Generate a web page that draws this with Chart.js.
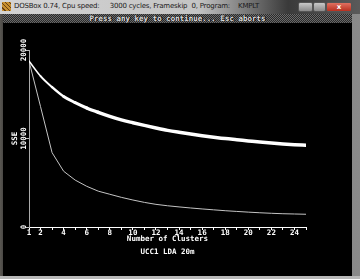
<!DOCTYPE html>
<html>
<head>
<meta charset="utf-8">
<script src="https://cdn.jsdelivr.net/npm/chart.js@4/dist/chart.umd.min.js"></script>
<style>
  html, body { margin: 0; padding: 0; }
  body { width: 360px; height: 279px; overflow: hidden; background: #7a6a58; position: relative; }
  #frame { position: absolute; left: 0; top: 0; width: 360px; height: 279px;
           background: linear-gradient(90deg, #5a5752 0px, #4a4845 3px, #6d6d6d 50%, #8a8a8a 100%); }
  #titlebar { position: absolute; left: 0; top: 0; width: 360px; height: 14px;
              background: linear-gradient(90deg, #d4d4d4 0%, #c4c4c4 55%, #3a3a3a 80%, #5a5a5a 100%); }
  #titletext { position: absolute; left: 14px; top: 2px; font: 7px "DejaVu Sans", sans-serif;
               color: #1a1a1a; white-space: pre; letter-spacing: -0.2px; }
  #icon { position: absolute; left: 2px; top: 2px; width: 9px; height: 9px;
          background: repeating-linear-gradient(45deg, #c89030 0 2px, #6a4010 2px 3px); }
  .btn { position: absolute; top: 2px; height: 10px; border: 1px solid #555; border-radius: 2px;
         box-sizing: border-box; }
  #bmin { left: 298px; width: 15px; background: linear-gradient(#c8c8c8, #8a8a8a); }
  #bmax { left: 313px; width: 13px; background: linear-gradient(#c8c8c8, #8a8a8a); }
  #bclose { left: 326px; width: 26px; background: linear-gradient(#e07060, #b83020); color: #fff;
            font: bold 7px "DejaVu Sans", sans-serif; text-align: center; line-height: 8px; }
  #status { position: absolute; left: 3px; top: 14px; width: 349px; height: 9px;
            background: repeating-conic-gradient(#6a6a6a 0 25%, #2a2a2a 0 50%) 0 0 / 2px 2px; }
  #statustext { position: absolute; left: 0; top: 0; width: 349px; text-align: center;
                font: bold 7.5px "DejaVu Sans Mono", monospace; line-height: 9px; color: #d8d8d8;
                text-shadow: 1px 0 0 #000; }
  #screen { position: absolute; left: 3px; top: 23px; width: 349px; height: 253px; background: #000; }
  #bottomedge { position: absolute; left: 0; top: 276px; width: 360px; height: 3px; background: #b8b8b8; }
</style>
</head>
<body>
<div id="frame"></div>
<div id="titlebar">
  <div id="icon"></div>
  <div id="titletext">DOSBox 0.74, Cpu speed:     3000 cycles, Frameskip  0, Program:    KMPLT</div>
  <div class="btn" id="bmin"></div>
  <div class="btn" id="bmax"></div>
  <div class="btn" id="bclose">x</div>
</div>
<div id="status"><div id="statustext">Press any key to continue... Esc aborts</div></div>
<div id="screen"><canvas id="sseChart" width="349" height="253"></canvas></div>
<div id="bottomedge"></div>
<script>
// number of clusters (x axis)
const clusters = [1, 2, 3, 4, 5, 6, 7, 8, 9, 10, 11, 12, 13, 14, 15, 16, 17, 18, 19, 20, 21, 22, 23, 24, 25];
// thick upper band
const sseUpper = [18750, 17050, 15800, 14750, 14050, 13450, 12950, 12500, 12100, 11780, 11480, 11190,
                  10920, 10700, 10500, 10320, 10150, 9990, 9860, 9730, 9600, 9480, 9380, 9300, 9230];
// thin lower curve
const sseLower = [18750, 13600, 8400, 6300, 5300, 4600, 4050, 3700, 3350, 3050, 2780, 2560,
                  2400, 2270, 2150, 2040, 1940, 1840, 1760, 1680, 1610, 1550, 1500, 1470, 1440];
const yTicks = [0, 10000, 20000];
const xTitle = 'Number of Clusters';
const chartLabel = 'UCC1 LDA 20m';
const yTitle = 'SSE';

// band gets wider as the runs spread apart
const bandWidths = [1.5, 2, 2.5, 2.8, 3.1, 3.3];

const dosFont = { family: '"DejaVu Sans Mono", monospace', size: 7.5, weight: 'bold' };

const ctx = document.getElementById('sseChart').getContext('2d');
new Chart(ctx, {
    type: 'line',
    data: {
        datasets: [
            {
                label: 'upper',
                data: clusters.map((c, i) => ({ x: c, y: sseUpper[i] })),
                borderColor: '#ffffff',
                borderWidth: 3.5,
                pointRadius: 0,
                cubicInterpolationMode: 'monotone',
                borderCapStyle: 'round',
                segment: { borderWidth: c => bandWidths[c.p0DataIndex] ?? 3.5 }
            },
            {
                label: 'lower',
                data: clusters.map((c, i) => ({ x: c, y: sseLower[i] })),
                borderColor: '#c4c4c4',
                borderWidth: 1,
                pointRadius: 0,
                tension: 0
            }
        ]
    },
    options: {
        responsive: false,
        animation: false,
        layout: { padding: { top: 27, right: 46, left: 0, bottom: 0 } },
        plugins: {
            legend: { display: false },
            tooltip: { enabled: false }
        },
        scales: {
            x: {
                type: 'linear',
                min: 1,
                max: 25,
                afterFit: scale => { scale.height = 49; },
                afterBuildTicks: scale => { scale.ticks = clusters.map(v => ({ value: v })); },
                ticks: {
                    color: '#ffffff',
                    font: dosFont,
                    padding: -1,
                    maxRotation: 0,
                    autoSkip: false,
                    callback: v => (v === 1 || v % 2 === 0) ? String(v) : ''
                },
                grid: { drawOnChartArea: false, color: '#ffffff', tickLength: 3 },
                border: { color: '#ffffff', width: 1 },
                title: {
                    display: true,
                    text: [xTitle, chartLabel],
                    color: '#ffffff',
                    font: { ...dosFont, lineHeight: '13px' },
                    padding: { top: 0, bottom: 17.5 }
                }
            },
            y: {
                min: 0,
                max: 20000,
                afterFit: scale => { scale.width = 26; },
                afterBuildTicks: scale => { scale.ticks = yTicks.map(v => ({ value: v })); },
                ticks: {
                    color: '#ffffff',
                    font: dosFont,
                    minRotation: 90,
                    maxRotation: 90,
                    crossAlign: 'center',
                    padding: -9,
                    callback: v => String(v)
                },
                grid: { drawOnChartArea: false, color: '#bbbbbb', tickLength: 3 },
                border: { color: '#aaaaaa', width: 1 },
                title: {
                    display: true,
                    text: yTitle,
                    color: '#ffffff',
                    font: { ...dosFont, lineHeight: 1.2 },
                    padding: { top: 7.5, bottom: 0 }
                }
            }
        }
    }
});
</script>
</body>
</html>
